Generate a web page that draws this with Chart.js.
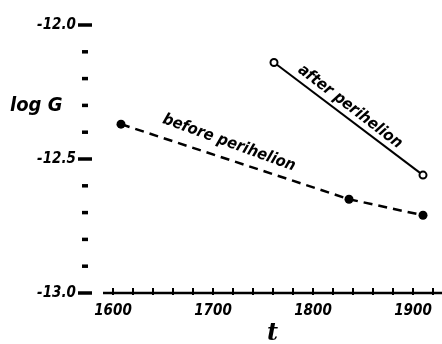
<!DOCTYPE html>
<html>
<head>
<meta charset="utf-8">
<script src="https://cdn.jsdelivr.net/npm/chart.js@4"></script>
<style>
  html, body { margin: 0; padding: 0; background: #fff; }
  #wrap { width: 442px; height: 344px; }
</style>
</head>
<body>
<div id="wrap"><canvas id="chart-1" width="442" height="344"></canvas></div>
<script>
// values (year, log G)
const beforeYears = [1608, 1836, 1910];
const beforeLogG = [-12.37, -12.65, -12.71];
const afterYears = [1761, 1910];
const afterLogG = [-12.14, -12.56];
const xTickYears = [1600, 1620, 1640, 1660, 1680, 1700, 1720, 1740, 1760, 1780, 1800, 1820, 1840, 1860, 1880, 1900, 1920];
const xTickLabels = ["1600", "1700", "1800", "1900"];
const yTickLabels = ["-12.0", "-12.5", "-13.0"];

const hand = '"DejaVu Sans Condensed", "Liberation Sans Narrow", "DejaVu Sans", sans-serif';

function toPoints(xs, ys) {
  return xs.map((x, i) => ({ x: x, y: ys[i] }));
}

// hand-drawn looking axis marks and the text written on the plot
const axisMarks = {
  id: "axisMarks",
  afterDraw(chart) {
    const ctx = chart.ctx;
    const area = chart.chartArea;
    const xs = chart.scales.x;
    const ys = chart.scales.y;
    ctx.save();
    ctx.strokeStyle = "#000";
    ctx.fillStyle = "#000";
    ctx.lineCap = "butt";

    // y dashes
    ys.ticks.forEach(t => {
      const p = ys.getPixelForValue(t.value);
      const major = Math.abs(t.value * 2 - Math.round(t.value * 2)) < 1e-6;
      ctx.lineWidth = 3.5;
      ctx.beginPath();
      if (major) {
        ctx.moveTo(area.left - 25, p);
        ctx.lineTo(area.left - 11, p);
      } else {
        ctx.moveTo(area.left - 21, p);
        ctx.lineTo(area.left - 15, p);
      }
      ctx.stroke();
    });

    // x axis line and crossing ticks
    ctx.lineWidth = 2.5;
    ctx.beginPath();
    ctx.moveTo(area.left, area.bottom);
    ctx.lineTo(area.right, area.bottom);
    ctx.stroke();
    ctx.lineWidth = 2;
    xs.ticks.forEach(t => {
      const p = xs.getPixelForValue(t.value);
      ctx.beginPath();
      ctx.moveTo(p, area.bottom - 5);
      ctx.lineTo(p, area.bottom + 2);
      ctx.stroke();
    });

    // y title
    ctx.font = "italic bold 20px " + hand;
    ctx.textAlign = "left";
    ctx.textBaseline = "middle";
    ctx.fillText("log G", 10, ys.getPixelForValue(-12.3));

    // series names along the lines
    ctx.font = "italic bold 16px " + hand;
    ctx.textAlign = "center";
    const names = [
      { text: chart.data.datasets[0].label, x: 1716, y: -12.44, angle: 20 },
      { text: chart.data.datasets[1].label, x: 1837, y: -12.305, angle: 37.5 }
    ];
    names.forEach(n => {
      ctx.save();
      ctx.translate(xs.getPixelForValue(n.x), ys.getPixelForValue(n.y));
      ctx.rotate(n.angle * Math.PI / 180);
      ctx.fillText(n.text, 0, 0);
      ctx.restore();
    });
    ctx.restore();
  }
};

const ctx1 = document.getElementById("chart-1").getContext("2d");
const myChart1 = new Chart(ctx1, {
  type: "line",
  data: {
    datasets: [
      {
        label: "before perihelion",
        data: toPoints(beforeYears, beforeLogG),
        borderColor: "#000",
        borderWidth: 2.5,
        borderDash: [9, 6],
        pointRadius: 4.5,
        pointBackgroundColor: "#000",
        pointBorderWidth: 0,
        tension: 0,
        clip: false
      },
      {
        label: "after perihelion",
        data: toPoints(afterYears, afterLogG),
        borderColor: "#000",
        borderWidth: 2,
        pointRadius: 3.5,
        pointBackgroundColor: "#fff",
        pointBorderColor: "#000",
        pointBorderWidth: 2,
        tension: 0,
        clip: false
      }
    ]
  },
  options: {
    responsive: false,
    animation: false,
    layout: { autoPadding: false, padding: { top: 25, left: 0, right: 0, bottom: 0 } },
    plugins: {
      legend: { display: false },
      tooltip: { enabled: false }
    },
    scales: {
      x: {
        type: "linear",
        min: 1590,
        max: 1929,
        grid: { display: false, drawTicks: false },
        border: { display: false },
        afterBuildTicks: function(scale) {
          scale.ticks = xTickYears.map(v => ({ value: v }));
        },
        afterFit: function(scale) {
          scale.height = 51;
          scale.paddingLeft = 0;
          scale.paddingRight = 0;
        },
        ticks: {
          autoSkip: false,
          maxRotation: 0,
          padding: 9,
          color: "#000",
          font: { family: hand, size: 15, style: "italic", weight: "bold" },
          callback: function(value) {
            const s = String(value);
            return xTickLabels.includes(s) ? s : "";
          }
        },
        title: {
          display: true,
          text: "t",
          color: "#000",
          padding: { top: 0, bottom: -2 },
          font: { family: "DejaVu Serif, serif", size: 24, style: "italic", weight: "bold", lineHeight: 1 }
        }
      },
      y: {
        min: -13,
        max: -12,
        grid: { display: false, drawTicks: false },
        border: { display: false },
        afterFit: function(scale) {
          scale.width = 103;
          scale.paddingTop = 0;
          scale.paddingBottom = 0;
        },
        ticks: {
          stepSize: 0.1,
          autoSkip: false,
          padding: 27,
          color: "#000",
          font: { family: hand, size: 15, style: "italic", weight: "bold" },
          callback: function(value) {
            const s = Number(value).toFixed(1);
            return yTickLabels.includes(s) ? s : "";
          }
        }
      }
    }
  },
  plugins: [axisMarks]
});
</script>
</body>
</html>
